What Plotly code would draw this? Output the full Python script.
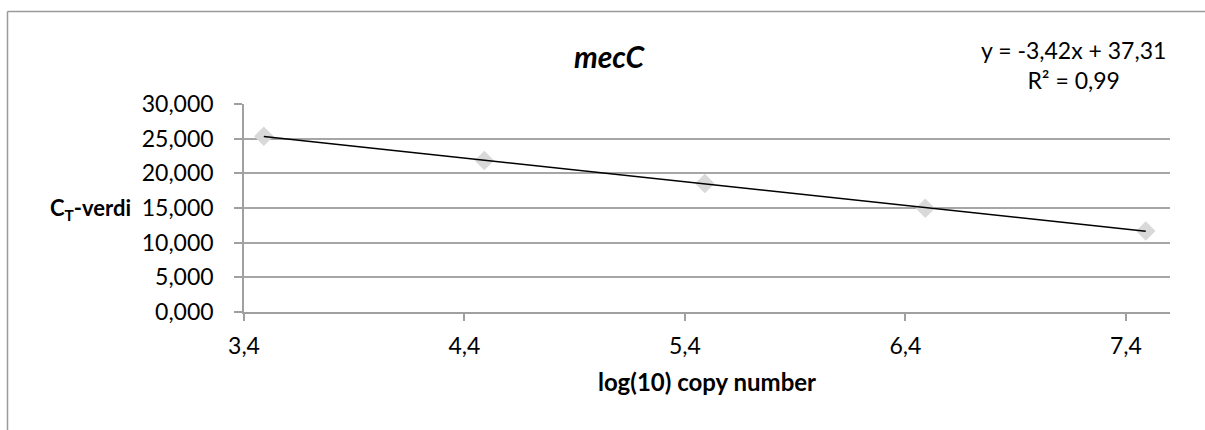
import numpy as np
import plotly.graph_objects as go

# Data
log_copy = [3.49, 4.49, 5.49, 6.49, 7.49]
ct_values = [25.35, 21.85, 18.55, 14.95, 11.70]
x_ticks = [3.4, 4.4, 5.4, 6.4, 7.4]
x_tick_labels = ["3,4", "4,4", "5,4", "6,4", "7,4"]
y_ticks = [0, 5, 10, 15, 20, 25, 30]
y_tick_labels = ["0,000", "5,000", "10,000", "15,000", "20,000", "25,000", "30,000"]
title_text = "mecC"
equation_text = "y = -3,42x + 37,31<br>R² = 0,99"
x_title = "log(10) copy number"
y_title = "C<sub>T</sub>-verdi"

slope, intercept = np.polyfit(log_copy, ct_values, 1)
trend_x = [min(log_copy), max(log_copy)]
trend_y = [slope * v + intercept for v in trend_x]

FONT = "Lato"
W, H = 1205, 430
ml, mr, mt, mb = 244, 35, 104, 118
pw, ph = W - ml - mr, H - mt - mb

def px_to_paper_x(px):
    return (px - ml) / pw

def px_to_paper_y(py):
    return (H - mb - py) / ph

fig = go.Figure()
fig.add_trace(go.Scatter(
    x=log_copy, y=ct_values, mode="markers",
    marker=dict(symbol="diamond", size=15, color="#d9d9d9"),
    showlegend=False, hoverinfo="x+y",
))
fig.add_trace(go.Scatter(
    x=trend_x, y=trend_y, mode="lines",
    line=dict(color="black", width=1.5),
    showlegend=False, hoverinfo="skip",
))

# outer chart border (left and top edges visible)
fig.add_shape(type="line", xref="paper", yref="paper",
              x0=px_to_paper_x(7.5), x1=px_to_paper_x(1215),
              y0=px_to_paper_y(11.5), y1=px_to_paper_y(11.5),
              line=dict(color="#9a9a9a", width=1.5))
fig.add_shape(type="line", xref="paper", yref="paper",
              x0=px_to_paper_x(7.5), x1=px_to_paper_x(7.5),
              y0=px_to_paper_y(11.5), y1=px_to_paper_y(440),
              line=dict(color="#9a9a9a", width=1.5))

fig.add_annotation(text="<b><i>" + title_text + "</i></b>", xref="paper", yref="paper",
                   x=px_to_paper_x(610), y=px_to_paper_y(56), showarrow=False,
                   font=dict(family=FONT, size=30, color="black"),
                   xanchor="center", yanchor="middle")
fig.add_annotation(text=equation_text, xref="paper", yref="paper",
                   x=px_to_paper_x(1073), y=px_to_paper_y(65), showarrow=False,
                   font=dict(family=FONT, size=23, color="black"),
                   xanchor="center", yanchor="middle", align="center")
fig.add_annotation(text="<b>" + y_title + "</b>", xref="paper", yref="paper",
                   x=px_to_paper_x(133), y=px_to_paper_y(209), showarrow=False,
                   font=dict(family=FONT, size=22, color="black"),
                   xanchor="right", yanchor="middle")

fig.update_layout(
    width=W, height=H,
    margin=dict(l=ml, r=mr, t=mt, b=mb),
    paper_bgcolor="white", plot_bgcolor="white",
    font=dict(family=FONT, size=23, color="black"),
    xaxis=dict(
        range=[3.4, 7.6], tickvals=x_ticks, ticktext=x_tick_labels,
        showgrid=False, zeroline=False, showline=True, linecolor="#a0a0a0", linewidth=1.5,
        ticks="outside", ticklen=7, tickcolor="#a0a0a0", tickwidth=1.5,
        tickfont=dict(family=FONT, size=23), ticklabelstandoff=6,
        title=dict(text="<b>" + x_title + "</b>", font=dict(family=FONT, size=24), standoff=16),
    ),
    yaxis=dict(
        range=[0, 30], tickvals=y_ticks, ticktext=y_tick_labels,
        showgrid=True, gridcolor="#a6a6a6", gridwidth=1.5, zeroline=False,
        showline=True, linecolor="#a0a0a0", linewidth=1.5,
        ticks="outside", ticklen=8, tickcolor="#a0a0a0", tickwidth=1.5,
        tickfont=dict(family=FONT, size=23), ticklabelstandoff=16,
    ),
)

fig.write_html("out.html", config={"displayModeBar": False},
               post_script="document.body.style.margin='0';document.body.style.padding='0';")
